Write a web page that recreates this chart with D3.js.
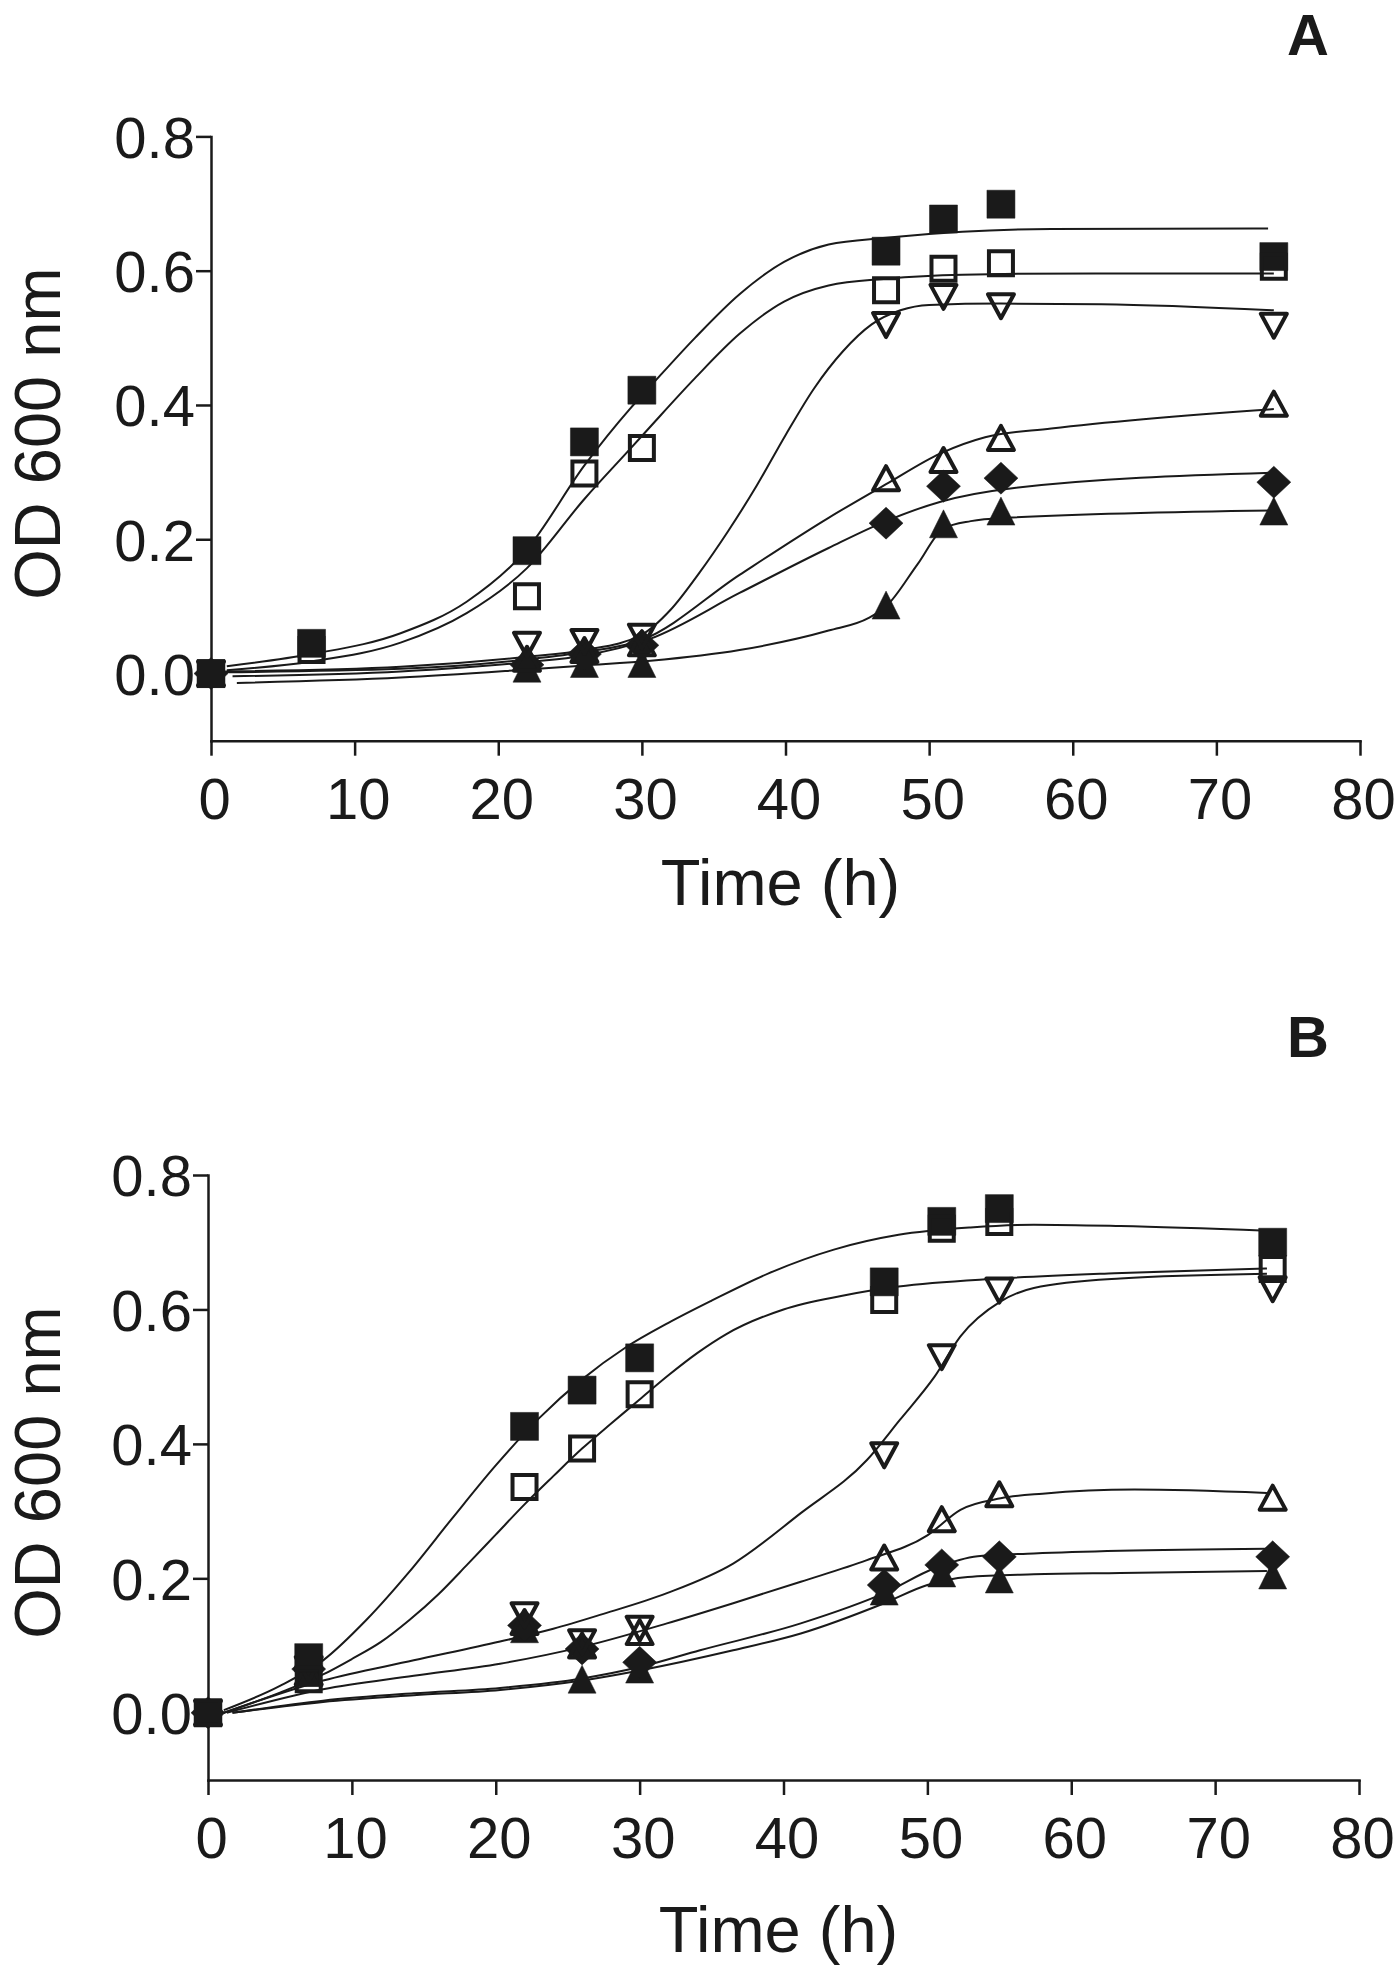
<!DOCTYPE html>
<html lang="en">
<head>
<meta charset="utf-8">
<title>OD 600 growth curves</title>
<script src="https://cdn.jsdelivr.net/npm/d3@7"></script>
<style>
  body { margin: 0; background: #fff; }
  svg { display: block; }
  .axis path, .axis line { stroke: #1a1a1a; stroke-width: 2.5; }
  .axis text { font-family: Arial, "Liberation Sans", Helvetica, sans-serif; font-size: 58px; fill: #1a1a1a; }
  .title { font-family: Arial, "Liberation Sans", Helvetica, sans-serif; font-size: 65px; fill: #1a1a1a; }
  .panel-letter { font-family: Arial, "Liberation Sans", Helvetica, sans-serif; font-size: 58px; font-weight: bold; fill: #1a1a1a; }
</style>
</head>
<body>
<script>
// sampling times (h)
var times = [0, 7, 22, 26, 30, 47, 51, 55, 74];
var xTicks = [0, 10, 20, 30, 40, 50, 60, 70, 80];
var yTicks = [0.0, 0.2, 0.4, 0.6, 0.8];

// Panel A measured OD600 (null = not plotted)
var aFilledSquare  = [0.0, 0.045, 0.183, 0.345, 0.422, 0.629, 0.677, 0.699, 0.621];
var aOpenSquare    = [0.0, 0.035, 0.115, 0.298, 0.336, 0.571, 0.603, 0.611, 0.606];
var aOpenDown      = [0.0, null, 0.043, 0.047, 0.055, 0.519, 0.561, 0.547, 0.518];
var aOpenUp        = [0.0, null, 0.022, 0.035, 0.045, 0.291, 0.318, 0.351, 0.402];
var aFilledDiamond = [0.0, null, 0.013, 0.029, 0.042, 0.224, 0.279, 0.291, 0.285];
var aFilledUp      = [0.0, null, 0.008, 0.015, 0.015, 0.102, 0.223, 0.242, 0.242];

// Panel B measured OD600
var bFilledSquare  = [0.0, 0.082, 0.426, 0.480, 0.528, 0.641, 0.731, 0.750, 0.700];
var bOpenSquare    = [0.0, 0.050, 0.336, 0.393, 0.474, 0.614, 0.720, 0.730, 0.660];
var bOpenDown      = [0.0, 0.065, 0.145, 0.105, 0.125, 0.383, 0.529, 0.628, 0.630];
var bOpenUp        = [0.0, 0.060, 0.135, 0.100, 0.120, 0.231, 0.288, 0.325, 0.320];
var bFilledDiamond = [0.0, 0.065, 0.130, 0.095, 0.075, 0.190, 0.220, 0.232, 0.232];
var bFilledUp      = [0.0, 0.060, 0.125, 0.050, 0.065, 0.181, 0.208, 0.199, 0.205];

// fitted curves as [time, OD] knots
var aFitFilledSquare = [[1.1,0.011],[7,0.029],[13.2,0.060],[17.8,0.107],[22,0.185],[26,0.310],[29.2,0.395],[30.6,0.428],[33.7,0.500],[36.8,0.565],[39.9,0.613],[43,0.639],[47,0.649],[52.3,0.658],[58.5,0.662],[73.6,0.663]];
var aFitOpenSquare   = [[1.1,0.005],[7,0.018],[13.2,0.046],[17.8,0.090],[22,0.157],[26,0.260],[29.2,0.335],[30.6,0.368],[33.7,0.440],[36.8,0.506],[39.9,0.554],[43,0.578],[47,0.588],[52.3,0.594],[61.6,0.596],[74,0.596]];
var aFitOpenDown     = [[1.0,0.003],[13.2,0.010],[22,0.025],[26,0.035],[30,0.058],[32,0.095],[34,0.150],[36,0.212],[38,0.280],[40,0.355],[42,0.425],[44,0.480],[46,0.520],[48,0.541],[50,0.549],[55,0.551],[62,0.550],[74,0.541]];
var aFitOpenUp       = [[1.0,0.002],[13.2,0.007],[22,0.021],[26,0.032],[30,0.050],[36.8,0.147],[43,0.232],[47,0.282],[50.8,0.328],[53.9,0.352],[58.5,0.365],[74,0.394]];
var aFitDiamond      = [[1.5,-0.004],[13.2,0.003],[22,0.017],[26,0.027],[30.6,0.052],[36.8,0.120],[43,0.187],[47,0.227],[50.8,0.256],[55.4,0.275],[74,0.299]];
var aFitFilledUp     = [[1.8,-0.014],[13.2,-0.006],[22,0.006],[26,0.012],[30.6,0.019],[36.8,0.035],[43,0.064],[45.8,0.083],[47,0.100],[49.2,0.163],[51,0.216],[52.9,0.227],[55.4,0.232],[74,0.243]];

var bFitFilledSquare = [[1.1,0.004],[5,0.040],[8,0.078],[11,0.138],[14,0.210],[17,0.290],[20,0.368],[23,0.438],[26,0.496],[29,0.543],[32,0.580],[35,0.613],[39,0.654],[43.5,0.689],[48,0.711],[53,0.722],[57.4,0.726],[63.4,0.724],[73.6,0.717]];
var bFitOpenSquare   = [[1.1,0.0],[5,0.030],[8,0.057],[10,0.080],[12,0.105],[14,0.138],[16,0.176],[18,0.220],[20,0.265],[22,0.310],[24,0.352],[26,0.393],[28,0.430],[30,0.466],[32,0.502],[34,0.535],[36,0.563],[40,0.600],[44,0.620],[48,0.634],[55,0.646],[63,0.654],[73.6,0.661]];
var bFitOpenDown     = [[1.1,0.0],[8,0.048],[14.3,0.078],[20.3,0.106],[24,0.125],[27.3,0.146],[31.9,0.178],[36.5,0.222],[41.2,0.297],[45.8,0.376],[48.1,0.436],[50.5,0.500],[52.3,0.560],[55.1,0.612],[57.4,0.632],[63.4,0.646],[73.6,0.653]];
var bFitOpenUp       = [[1.3,0.0],[8,0.035],[14.3,0.055],[20.3,0.073],[26,0.098],[31.9,0.133],[36.5,0.163],[41.2,0.195],[45.8,0.227],[50.0,0.264],[52.3,0.302],[55.1,0.319],[58,0.326],[64.4,0.332],[73.6,0.327]];
var bFitDiamond      = [[1.7,0.0],[8,0.018],[14.3,0.029],[20.3,0.037],[26,0.051],[30,0.068],[34.2,0.093],[41.2,0.133],[47,0.178],[50.5,0.215],[53.5,0.233],[57.4,0.237],[63.4,0.241],[73.6,0.244]];
var bFitFilledUp     = [[1.7,0.0],[8,0.016],[14.3,0.026],[20.3,0.034],[26,0.048],[30,0.063],[36.5,0.093],[41.2,0.118],[47,0.163],[50,0.190],[52.8,0.202],[57.4,0.206],[63.4,0.208],[73.6,0.211]];

var ink = "#1a1a1a";
var w = 1400, h = 1967;

var svg = d3.select("body").append("svg")
    .attr("width", w)
    .attr("height", h);

svg.append("rect").attr("width", w).attr("height", h).attr("fill", "#fff");

// marker outlines, centred on the point
function markerPath(type) {
    switch (type) {
        case "filledSquare":  return "M-14,-14H14V14H-14Z";
        case "openSquare":    return "M-12,-12H12V12H-12Z";
        case "openDown":      return "M-13,-12L13,-12L0,12Z";
        case "openUp":        return "M0,-12L13,12L-13,12Z";
        case "filledDiamond": return "M0,-16L17,0L0,16L-17,0Z";
        case "filledUp":      return "M0,-14L14,14L-14,14Z";
    }
}

function drawPanel(cfg) {
    var x = d3.scaleLinear().domain([0, 80]).range([cfg.x0, cfg.x1]);
    var y = d3.scaleLinear().domain([-0.1, 0.8]).range([cfg.yBottom, cfg.yTop]);
    var g = svg.append("g");

    // axes
    var xAxis = g.append("g").attr("class", "axis")
        .attr("transform", "translate(0," + y(-0.1) + ")")
        .call(d3.axisBottom(x).tickValues(xTicks).tickSize(15).tickSizeOuter(0).tickFormat(d3.format("d")));
    xAxis.selectAll("text").attr("y", 78).attr("dy", null).attr("dx", 3);

    var yAxis = g.append("g").attr("class", "axis")
        .attr("transform", "translate(" + x(0) + ",0)")
        .call(d3.axisLeft(y).tickValues(yTicks).tickSize(15).tickSizeOuter(0).tickFormat(d3.format(".1f")));
    yAxis.selectAll("text").attr("x", -16).attr("dy", "0.36em");
    g.selectAll(".axis .domain").attr("stroke-linecap", "square");

    // fitted curves
    var line = d3.line()
        .x(function(d) { return x(d[0]); })
        .y(function(d) { return y(d[1]); })
        .curve(d3.curveMonotoneX);
    cfg.fits.forEach(function(f) {
        g.append("path")
            .attr("d", line(f))
            .attr("fill", "none")
            .attr("stroke", ink)
            .attr("stroke-width", 2);
    });

    // data markers
    cfg.series.forEach(function(s) {
        var pts = times.map(function(t, i) { return { t: t, v: s.values[i] }; })
            .filter(function(d) { return d.v !== null; });
        var open = s.type.indexOf("open") === 0;
        g.selectAll(null)
            .data(pts)
            .enter()
            .append("path")
            .attr("transform", function(d) { return "translate(" + x(d.t) + "," + y(d.v) + ")"; })
            .attr("d", markerPath(s.type))
            .attr("fill", open ? "none" : ink)
            .attr("stroke", ink)
            .attr("stroke-width", open ? 4 : 0.5)
            .attr("stroke-linejoin", open && s.type !== "openSquare" ? "round" : "miter");
    });

    // titles
    g.append("text").attr("class", "title")
        .attr("x", (cfg.x0 + cfg.x1) / 2 - 5)
        .attr("y", cfg.xTitleY)
        .attr("text-anchor", "middle")
        .text("Time (h)");
    g.append("text").attr("class", "title")
        .attr("transform", "translate(60," + ((cfg.yTop + cfg.yBottom) / 2 - 5) + ") rotate(-90)")
        .attr("text-anchor", "middle")
        .text("OD 600 nm");
    g.append("text").attr("class", "panel-letter")
        .attr("x", 1308)
        .attr("y", cfg.letterY)
        .attr("text-anchor", "middle")
        .text(cfg.letter);
}

drawPanel({
    letter: "A", letterY: 55,
    x0: 211, x1: 1360, yTop: 136.4, yBottom: 740.7, xTitleY: 905,
    fits: [aFitFilledSquare, aFitOpenSquare, aFitOpenDown, aFitOpenUp, aFitDiamond, aFitFilledUp],
    series: [
        { type: "filledUp", values: aFilledUp },
        { type: "filledDiamond", values: aFilledDiamond },
        { type: "openUp", values: aOpenUp },
        { type: "openDown", values: aOpenDown },
        { type: "filledSquare", values: aFilledSquare },
        { type: "openSquare", values: aOpenSquare }
    ]
});

drawPanel({
    letter: "B", letterY: 1057,
    x0: 208, x1: 1359, yTop: 1175, yBottom: 1780, xTitleY: 1952,
    fits: [bFitFilledSquare, bFitOpenSquare, bFitOpenDown, bFitOpenUp, bFitDiamond, bFitFilledUp],
    series: [
        { type: "filledUp", values: bFilledUp },
        { type: "filledDiamond", values: bFilledDiamond },
        { type: "openUp", values: bOpenUp },
        { type: "openDown", values: bOpenDown },
        { type: "filledSquare", values: bFilledSquare },
        { type: "openSquare", values: bOpenSquare }
    ]
});
</script>
</body>
</html>
